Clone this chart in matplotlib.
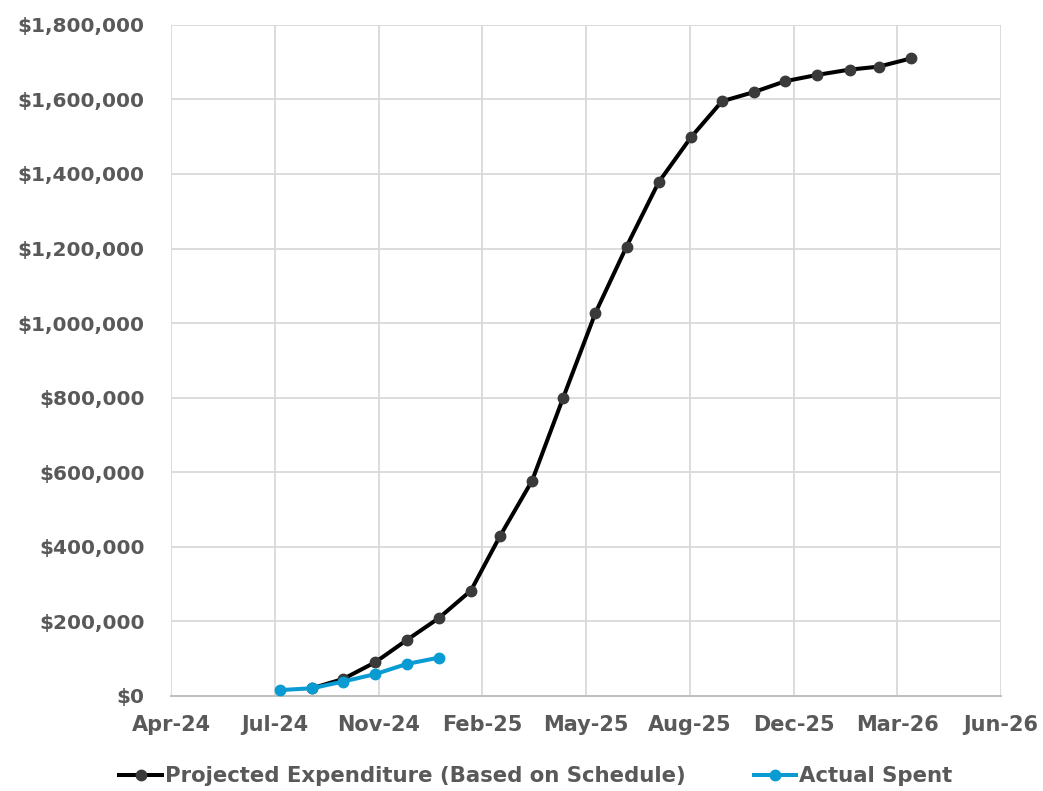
import numpy as np
import matplotlib as mpl
import matplotlib.pyplot as plt
import matplotlib.dates as mdates
from matplotlib.ticker import FuncFormatter
import datetime as dt

# monthly data points
proj_dates = ['2024-09-01', '2024-10-01', '2024-11-01', '2024-12-01', '2025-01-01',
              '2025-02-01', '2025-03-01', '2025-04-01', '2025-05-01', '2025-06-01',
              '2025-07-01', '2025-08-01', '2025-09-01', '2025-10-01', '2025-11-01',
              '2025-12-01', '2026-01-01', '2026-02-01', '2026-03-01', '2026-04-01']
proj_vals = [20000, 45000, 90000, 149000, 208000, 282000, 428000, 577000, 800000, 1027000,
             1205000, 1378000, 1498000, 1595000, 1620000, 1649000, 1666000, 1680000, 1688000, 1710000]

actual_dates = ['2024-08-01', '2024-09-01', '2024-10-01', '2024-11-01', '2024-12-01', '2025-01-01']
actual_vals = [15000, 20000, 38000, 58000, 85000, 102000]

labels = ['Projected Expenditure (Based on Schedule)', 'Actual Spent']

mpl.rcParams['font.family'] = 'DejaVu Sans'
mpl.rcParams['font.weight'] = 'bold'
mpl.rcParams['font.size'] = 14.5
txt_color = '#595959'

fig = plt.figure(figsize=(10.43, 7.91), dpi=100)
ax = fig.add_axes([0.164, 0.1205, 0.7958, 0.848])

pd_ = [dt.datetime.strptime(d, '%Y-%m-%d') for d in proj_dates]
ad_ = [dt.datetime.strptime(d, '%Y-%m-%d') for d in actual_dates]

ax.plot(pd_, proj_vals, color='black', lw=2.9, marker='o', ms=7.5,
        mfc='#3a3a3a', mec='#3a3a3a', label=labels[0], zorder=3)
ax.plot(ad_, actual_vals, color='#0A9BD2', lw=2.9, marker='o', ms=7.5,
        mfc='#0A9BD2', mec='#0A9BD2', label=labels[1], zorder=4)

# Excel-like date axis: start 18-Apr-24, major unit 100 days
start = dt.datetime(2024, 4, 18)
ticks = [start + dt.timedelta(days=100 * i) for i in range(9)]
ax.set_xlim(mdates.date2num(ticks[0]), mdates.date2num(ticks[-1]))
ax.set_xticks(ticks)
ax.xaxis.set_major_formatter(mdates.DateFormatter('%b-%y'))

ax.set_ylim(0, 1800000)
ax.set_yticks(np.arange(0, 1800001, 200000))
ax.yaxis.set_major_formatter(FuncFormatter(lambda v, p: '${:,.0f}'.format(v)))

ax.grid(True, color='#d9d9d9', lw=1.3)
ax.set_axisbelow(True)
for s in ['top', 'right', 'left']:
    ax.spines[s].set_visible(False)
ax.spines['bottom'].set_color('#bfbfbf')
ax.spines['bottom'].set_linewidth(1.4)
ax.tick_params(axis='both', length=0, colors=txt_color)
ax.tick_params(axis='x', pad=14, labelsize=15)
ax.tick_params(axis='y', pad=19, labelsize=14.5)
for lab in ax.get_xticklabels() + ax.get_yticklabels():
    lab.set_fontweight('bold')

leg = fig.legend(loc='center', bbox_to_anchor=(536 / 1043, 1 - 776 / 791), ncol=2,
                 frameon=False, handlelength=2.0, handletextpad=0.15, columnspacing=3.2,
                 prop=mpl.font_manager.FontProperties(family='DejaVu Sans', weight='bold', size=15.3))
for t in leg.get_texts():
    t.set_color(txt_color)

fig.savefig('out.png', dpi=100)
